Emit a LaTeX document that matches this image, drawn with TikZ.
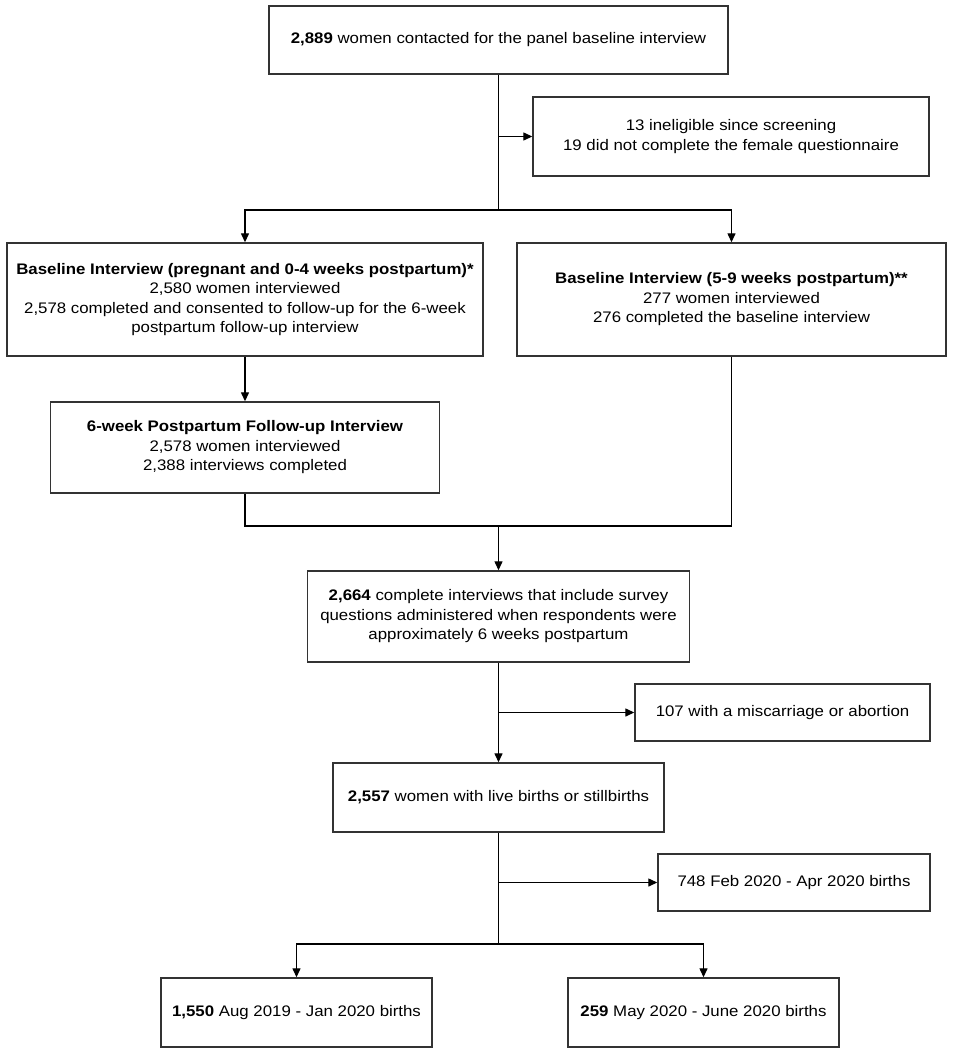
\documentclass[tikz,border=0pt]{standalone}
\usepackage{fontspec}
\setmainfont[FakeStretch=1.1]{Liberation Sans}
\usetikzlibrary{arrows.meta}
\definecolor{boxline}{HTML}{333333}
\tikzset{
  flowbox/.style={draw=boxline, line width=1.4pt, fill=white, align=center, inner sep=0pt,
    font=\fontsize{15.3}{19.5}\selectfont},
  conn/.style={draw=black, line width=1.3pt},
  arr/.style={conn, -{Triangle[length=9pt,width=8pt]}}
}
\begin{document}
\begin{tikzpicture}[x=1pt,y=-1pt]
\useasboundingbox (0,0) rectangle (957,1054);

\node[flowbox, minimum width=459pt, minimum height=68pt] (top) at (498.5,40)
  {\textbf{2,889} women contacted for the panel baseline interview};
\node[flowbox, minimum width=396pt, minimum height=79pt] (excl) at (731,136.5)
  {13 ineligible since screening\\19 did not complete the female questionnaire};
\node[flowbox, minimum width=476pt, minimum height=113pt] (bL) at (245,299.5)
  {\textbf{Baseline Interview (pregnant and 0-4 weeks postpartum)*}\\2,580 women interviewed\\2,578 completed and consented to follow-up for the 6-week\\postpartum follow-up interview};
\node[flowbox, minimum width=429pt, minimum height=113pt] (bR) at (731.5,299.5)
  {\textbf{Baseline Interview (5-9 weeks postpartum)**}\\277 women interviewed\\276 completed the baseline interview};
\node[flowbox, minimum width=389pt, minimum height=91pt] (six) at (245,447.5)
  {\textbf{6-week Postpartum Follow-up Interview}\\2,578 women interviewed\\2,388 interviews completed};
\node[flowbox, minimum width=382pt, minimum height=91pt] (c2664) at (498.5,616.5)
  {\textbf{2,664} complete interviews that include survey\\questions administered when respondents were\\approximately 6 weeks postpartum};
\node[flowbox, minimum width=295pt, minimum height=57pt] (m107) at (782.5,712.5)
  {107 with a miscarriage or abortion};
\node[flowbox, minimum width=331pt, minimum height=69pt] (c2557) at (498.5,797.5)
  {\textbf{2,557} women with live births or stillbirths};
\node[flowbox, minimum width=272pt, minimum height=57pt] (f748) at (794,882.5)
  {748 Feb 2020 - Apr 2020 births};
\node[flowbox, minimum width=271pt, minimum height=69pt] (b1550) at (296.5,1012.5)
  {\textbf{1,550} Aug 2019 - Jan 2020 births};
\node[flowbox, minimum width=271pt, minimum height=69pt] (b259) at (703.5,1012.5)
  {\textbf{259} May 2020 - June 2020 births};

% junction coordinates
\coordinate (j1) at (498.5,136.5);
\coordinate (j2) at (498.5,210);
\coordinate (j3) at (498.5,526);
\coordinate (j4) at (498.5,712.5);
\coordinate (j5) at (498.5,882.5);
\coordinate (j6) at (498.5,944);

\draw[conn] (top.south) -- (j2);
\draw[arr] (j1) -- (excl.west);
\draw[arr] (j2) -| (bL.north);
\draw[arr] (j2) -| (bR.north);
\draw[arr] (bL.south) -- (six.north);
\draw[conn] (six.south) |- (j3) -| (bR.south);
\draw[arr] (j3) -- (c2664.north);
\draw[arr] (c2664.south) -- (c2557.north);
\draw[arr] (j4) -- (m107.west);
\draw[conn] (c2557.south) -- (j6);
\draw[arr] (j5) -- (f748.west);
\draw[arr] (j6) -| (b1550.north);
\draw[arr] (j6) -| (b259.north);
\end{tikzpicture}
\end{document}
